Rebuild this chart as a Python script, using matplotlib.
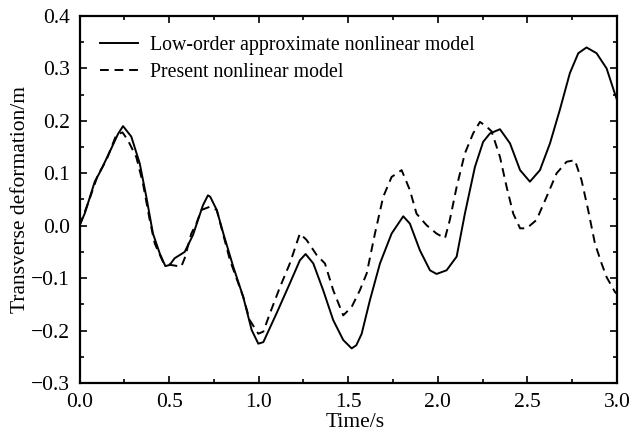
import matplotlib
matplotlib.use("Agg")
import matplotlib.pyplot as plt
from matplotlib.ticker import MultipleLocator

t_low = [0, 0.03, 0.085, 0.12, 0.177, 0.215, 0.243, 0.289, 0.336, 0.373, 0.41, 0.448, 0.479,
         0.503, 0.531, 0.587, 0.633, 0.689, 0.717, 0.73, 0.766, 0.803, 0.858, 0.914, 0.961,
         0.998, 1.026, 1.1, 1.174, 1.23, 1.262, 1.305, 1.36, 1.416, 1.472, 1.519, 1.545, 1.575,
         1.621, 1.677, 1.742, 1.807, 1.844, 1.9, 1.956, 1.993, 2.049, 2.105, 2.151, 2.207,
         2.253, 2.291, 2.347, 2.403, 2.459, 2.514, 2.57, 2.626, 2.681, 2.737, 2.784, 2.83,
         2.886, 2.942, 2.988, 3.0]
y_low = [0, 0.024, 0.084, 0.106, 0.147, 0.175, 0.19, 0.17, 0.119, 0.055, -0.015, -0.053, -0.077,
         -0.075, -0.062, -0.05, -0.018, 0.039, 0.058, 0.055, 0.03, -0.015, -0.078, -0.136, -0.199,
         -0.225, -0.222, -0.167, -0.11, -0.066, -0.054, -0.072, -0.123, -0.18, -0.218, -0.234,
         -0.228, -0.206, -0.142, -0.072, -0.015, 0.018, 0.004, -0.047, -0.085, -0.092, -0.085,
         -0.059, 0.023, 0.112, 0.16, 0.176, 0.184, 0.157, 0.106, 0.084, 0.106, 0.157, 0.221,
         0.291, 0.329, 0.34, 0.329, 0.3, 0.252, 0.24]

t_pres = [0, 0.05, 0.103, 0.15, 0.205, 0.24, 0.27, 0.317, 0.354, 0.392, 0.42, 0.466, 0.512,
          0.568, 0.587, 0.624, 0.652, 0.68, 0.726, 0.766, 0.84, 0.914, 0.95, 0.998, 1.026,
          1.063, 1.119, 1.174, 1.23, 1.267, 1.324, 1.37, 1.416, 1.472, 1.519, 1.565, 1.603,
          1.649, 1.695, 1.742, 1.798, 1.844, 1.881, 1.937, 1.993, 2.04, 2.067, 2.105, 2.151,
          2.197, 2.235, 2.272, 2.3, 2.347, 2.384, 2.421, 2.459, 2.496, 2.551, 2.607, 2.663,
          2.719, 2.765, 2.802, 2.839, 2.877, 2.914, 2.942, 2.988, 3.0]
y_pres = [0, 0.045, 0.097, 0.125, 0.173, 0.178, 0.163, 0.131, 0.081, 0.011, -0.034, -0.069,
          -0.075, -0.078, -0.062, -0.015, 0.004, 0.03, 0.036, 0.03, -0.066, -0.136, -0.18,
          -0.206, -0.202, -0.167, -0.117, -0.072, -0.015, -0.027, -0.056, -0.072, -0.123,
          -0.171, -0.155, -0.123, -0.091, -0.015, 0.055, 0.093, 0.106, 0.068, 0.023, 0.001,
          -0.015, -0.024, 0.011, 0.074, 0.138, 0.176, 0.198, 0.189, 0.18, 0.131, 0.074, 0.023,
          -0.005, -0.005, 0.011, 0.055, 0.1, 0.122, 0.125, 0.087, 0.03, -0.034, -0.072, -0.098,
          -0.126, -0.13]

labels = ["Low-order approximate nonlinear model", "Present nonlinear model"]

plt.rcParams['font.family'] = ['Liberation Serif', 'DejaVu Serif']
plt.rcParams['font.size'] = 14

fig = plt.figure(figsize=(6.33, 4.32), dpi=100)
ax = fig.add_axes([0.1256, 0.1134, 0.8491, 0.8496])

ax.plot(t_low, y_low, color='black', lw=1.4, label=labels[0])
ax.plot(t_pres, y_pres, color='black', lw=1.4, linestyle=(0, (4.5, 3)), label=labels[1])

ax.set_xlim(0, 3.0)
ax.set_ylim(-0.3, 0.4)
ax.xaxis.set_major_locator(MultipleLocator(0.5))
ax.xaxis.set_minor_locator(MultipleLocator(0.25))
ax.yaxis.set_major_locator(MultipleLocator(0.1))
ax.yaxis.set_minor_locator(MultipleLocator(0.05))
ax.xaxis.set_major_formatter(matplotlib.ticker.FormatStrFormatter('%.1f'))
ax.yaxis.set_major_formatter(matplotlib.ticker.FuncFormatter(
    lambda v, p: ('%.1f' % v).replace('-', '\u2212')))
ax.tick_params(which='both', direction='in', top=True, right=True, width=1.2, labelsize=15.5)
ax.tick_params(which='major', length=5)
ax.tick_params(which='minor', length=3)
ax.tick_params(axis='x', pad=7)
ax.tick_params(axis='y', pad=7)
for s in ax.spines.values():
    s.set_linewidth(1.6)

ax.set_xlabel("Time/s", fontsize=15.5)
ax.set_ylabel("Transverse deformation/m", fontsize=15.5)
ax.xaxis.set_label_coords(0.513, -0.082)
ax.yaxis.set_label_coords(-0.092, 0.5)

ax.legend(loc='upper left', frameon=False, fontsize=14.3, handlelength=1.9,
          handletextpad=0.6, borderaxespad=0.6, labelspacing=0.4,
          bbox_to_anchor=(0.002, 1.0))

fig.savefig("out.png", dpi=100)
